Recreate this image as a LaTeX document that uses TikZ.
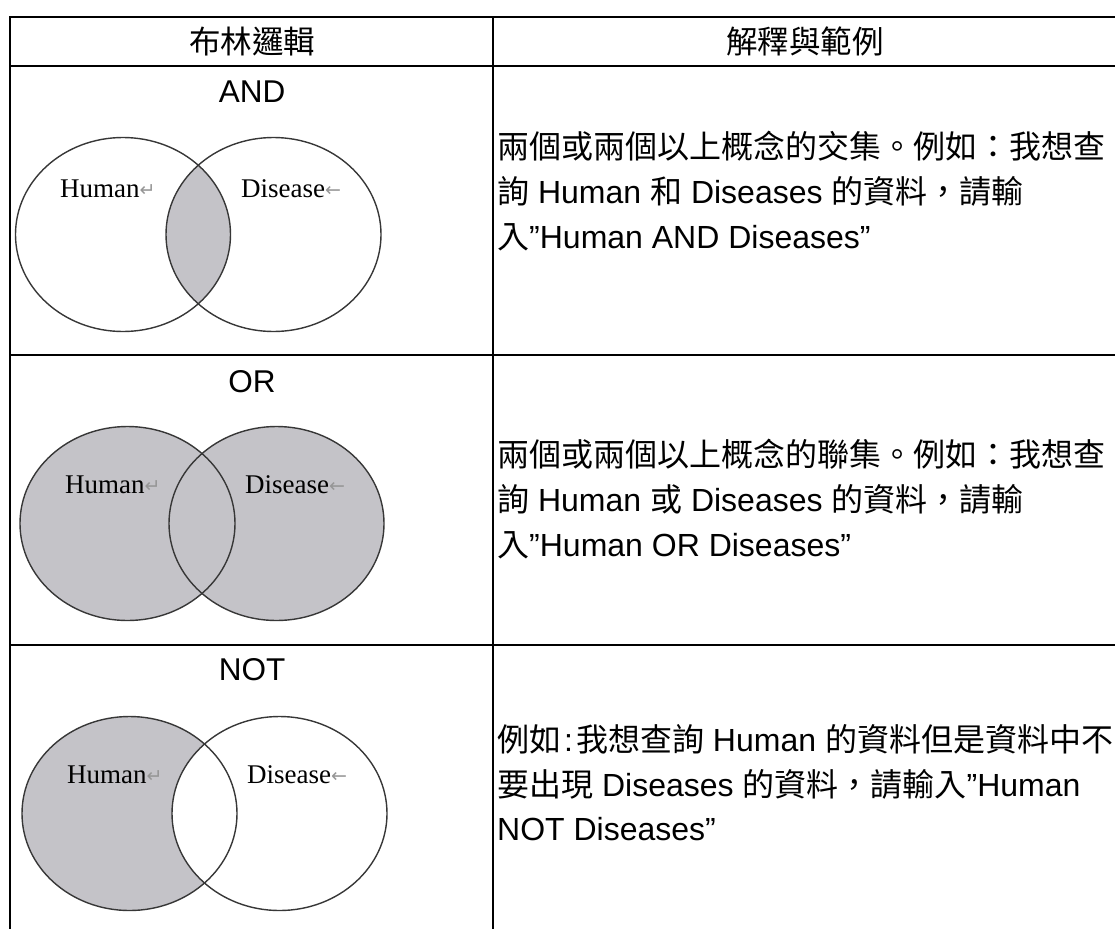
\documentclass[tikz,border=0pt]{standalone}
\usepackage{fontspec}
\setmainfont{Liberation Sans}
\newfontfamily\cjk{Noto Sans CJK TC}
\newfontfamily\vennfont{Liberation Serif}
\newfontfamily\markfont{DejaVu Sans}
\definecolor{venngray}{RGB}{196,195,200}
\definecolor{vennline}{RGB}{55,55,55}
\definecolor{markgray}{RGB}{150,150,150}
\newcommand{\wordmark}[1]{{\markfont\fontsize{19}{19}\selectfont\color{markgray}\raisebox{1pt}{#1}}}

\begin{document}
\begin{tikzpicture}[x=1pt, y=-1pt,
        rule/.style={line width=2pt},
        ring/.style={draw=vennline, line width=1.4pt},
        ringsize/.style={x radius=107.5pt, y radius=97pt},
        cell/.style={font=\fontsize{31.5}{36}\selectfont, inner sep=0pt, anchor=base},
        body/.style={font=\fontsize{32}{36}\selectfont, inner sep=0pt, anchor=base west},
        lbl/.style={font=\vennfont\fontsize{27}{30}\selectfont, inner sep=0pt, anchor=base west}]
        \useasboundingbox (0,0) rectangle (1115,929);

        % Table rules
        \draw[rule] (10,17) -- (1115,17);
        \draw[rule] (10,66) -- (1115,66);
        \draw[rule] (10,355) -- (1115,355);
        \draw[rule] (10,645) -- (1115,645);
        \draw[rule] (10,16) -- (10,929);
        \draw[rule] (493,16) -- (493,929);

        % Header
        \node[cell] (hdrl) at (252,53) {\cjk 布林邏輯};
        \node[cell] (hdrr) at (805,53) {\cjk 解釋與範例};

        % AND row
        \node[cell] (andt) at (252,102) {AND};
        \coordinate (andl) at (123,234.5);
        \coordinate (andr) at (273.5,234.5);
        \begin{scope}
            \clip (andl) ellipse [ringsize];
            \fill[venngray] (andr) ellipse [ringsize];
        \end{scope}
        \draw[ring] (andl) ellipse [ringsize];
        \draw[ring] (andr) ellipse [ringsize];
        \node[lbl] (andh) at (60,197) {Human\wordmark{↵}};
        \node[lbl] (andd) at (241,197) {Disease\wordmark{←}};

        \node[body] (andx1) at (497,158) {\cjk 兩個或兩個以上概念的交集。例如：我想查};
        \node[body] (andx2) at (497,203) {{\cjk 詢} Human {\cjk 和} Diseases {\cjk 的資料，請輸}};
        \node[body] (andx3) at (497,248) {{\cjk 入}"Human AND Diseases”};

        % OR row
        \node[cell] (ort) at (252,392) {OR};
        \coordinate (orl) at (127.5,523.5);
        \coordinate (orr) at (276.5,523.5);
        \fill[venngray] (orl) ellipse [ringsize];
        \fill[venngray] (orr) ellipse [ringsize];
        \draw[ring] (orl) ellipse [ringsize];
        \draw[ring] (orr) ellipse [ringsize];
        \node[lbl] (orh) at (65,493) {Human\wordmark{↵}};
        \node[lbl] (ord) at (245,493) {Disease\wordmark{←}};

        \node[body] (orx1) at (497,466) {\cjk 兩個或兩個以上概念的聯集。例如：我想查};
        \node[body] (orx2) at (497,511) {{\cjk 詢} Human {\cjk 或} Diseases {\cjk 的資料，請輸}};
        \node[body] (orx3) at (497,556) {{\cjk 入}"Human OR Diseases”};

        % NOT row
        \node[cell] (nott) at (252,680) {NOT};
        \coordinate (notl) at (129.5,813.5);
        \coordinate (notr) at (279.5,813.5);
        \fill[venngray] (notl) ellipse [ringsize];
        \begin{scope}
            \clip (notl) ellipse [ringsize];
            \fill[white] (notr) ellipse [ringsize];
        \end{scope}
        \draw[ring] (notl) ellipse [ringsize];
        \draw[ring] (notr) ellipse [ringsize];
        \node[lbl] (noth) at (67,783) {Human\wordmark{↵}};
        \node[lbl] (notd) at (247,783) {Disease\wordmark{←}};

        \node[body] (notx1) at (497,751) {{\cjk 例如}\kern3pt:\kern3pt{\cjk 我想查詢} Human {\cjk 的資料但是資料中不}};
        \node[body] (notx2) at (497,796) {{\cjk 要出現} Diseases {\cjk 的資料，請輸入}"Human};
        \node[body] (notx3) at (497,840) {NOT Diseases”};
    \end{tikzpicture}
\end{document}
